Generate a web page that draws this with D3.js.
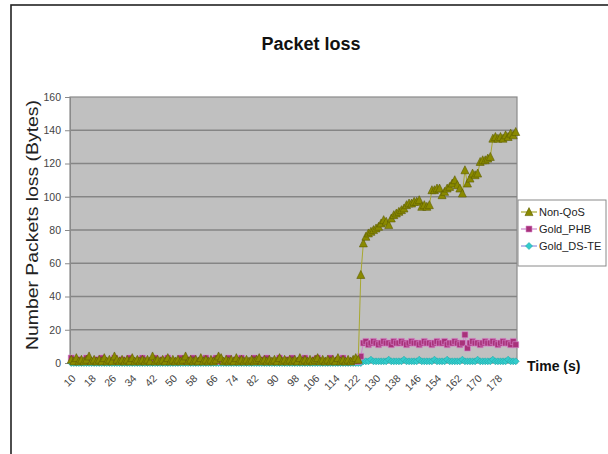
<!DOCTYPE html>
<html><head><meta charset="utf-8">
<script src="https://cdn.jsdelivr.net/npm/d3@7"></script>
<style>body{margin:0;background:#fff}svg{display:block}</style>
</head><body>
<svg id="c" width="608" height="454"></svg>
<script>
// ---- data ----
const times = d3.range(10, 186); // time categories (s), 10..185
const xTickLabels = [10,18,26,34,42,50,58,66,74,82,90,98,106,114,122,130,138,146,154,162,170,178];
const yTicks = [0,20,40,60,80,100,120,140,160];
const seriesNames = ["Non-QoS","Gold_PHB","Gold_DS-TE"];

const nonQoS = [
 2,1,3,1,2,1,2,4,1,2, 1,2,1,3,1,2,1,4,2,1, 2,1,2,1,3,1,2,1,2,1, 2,1,4,1,2,1,2,1,3,1,
 2,1,2,1,2,4,1,2,1,2, 1,3,1,2,1,2,1,2,4,3, 1,2,1,2,1,3,1,2,1,2, 1,2,1,2,3,1,2,1,2,1,
 2,1,3,1,2,1,2,1,2,1, 3,1,2,1,2,1,2,3,1,2, 1,2,1,2,1,3,1,2,1,2, 1,2,3,2,
 53,72,76,78,79,80,81,82,84,86, 85,83,87,89,90,91,92,93,95,96, 96,97,97,98,94,95,94,95,104,104,
 105,105,101,103,105,106,108,110,107,105, 102,116,108,111,114,113,114,121,122,122, 123,124,135,136,135,136,135,137,136,138,
 137,139
];
const goldPHB = [
 3,1,1,2,1,1,3,1,1,1, 2,1,3,1,1,1,1,3,1,1, 2,1,1,3,1,1,1,2,3,1, 1,1,1,3,1,1,2,1,3,1,
 1,1,1,3,1,1,1,2,3,1, 1,1,1,3,1,1,2,3,1,1, 1,1,3,1,1,2,1,3,1,1, 1,1,3,1,1,1,2,3,1,1,
 1,1,3,1,1,2,1,3,1,1, 1,1,3,1,1,1,2,3,1,1, 1,1,3,1,1,2,1,3,1,1, 1,1,2,1,
 4,12,13,11,12,13,12,11,12,13, 12,12,11,13,12,12,13,12,11,12, 13,12,12,11,12,13,12,12,11,12,
 13,12,12,13,11,12,12,13,12,11, 12,17,9,12,13,12,12,11,12,13, 12,12,13,12,11,12,13,12,12,11,
 13,11
];
const goldDSTE = [
 0,0,0,0,0,0,0,0,0,0, 0,0,0,0,0,0,0,0,0,0, 0,0,0,0,0,0,0,0,0,0, 0,0,0,0,0,0,0,0,0,0,
 0,0,0,0,0,0,0,0,0,0, 0,0,0,0,0,0,0,0,0,0, 0,0,0,0,0,0,0,0,0,0, 0,0,0,0,0,0,0,0,0,0,
 0,0,0,0,0,0,0,0,0,0, 0,0,0,0,0,0,0,0,0,0, 0,0,0,0,0,0,0,0,0,0, 0,0,0,0,
 0,1,1,1,2,1,1,1,1,1, 1,2,1,1,1,1,1,2,1,1, 1,1,1,2,1,1,1,1,1,2, 1,1,1,1,2,1,1,1,1,1,
 2,1,1,1,1,1,2,1,1,1, 1,1,2,1,1,1,1,1,2,1, 1,1,1,1,2,1,1,1,1,1,
 2,1
];

// ---- layout ----
const svg = d3.select("#c");
const P = {l:70, r:517, t:97, b:363};
const FONT = "Liberation Sans, Arial, sans-serif";

// outer frame (top + left visible)
svg.append("rect").attr("x",11).attr("y",5).attr("width",700).attr("height",600)
  .attr("fill","#fff").attr("stroke","#222").attr("stroke-width",1.6);

const x = d3.scaleBand().domain(times).range([P.l, P.r]).padding(0);
const y = d3.scaleLinear().domain([0,160]).range([P.b, P.t]);
const cx = t => x(t) + x.bandwidth()/2;

// plot area
svg.append("rect").attr("x",P.l).attr("y",P.t).attr("width",P.r-P.l).attr("height",P.b-P.t)
  .attr("fill","#c0c0c0").attr("stroke","#8a8a8a").attr("stroke-width",1.2);

// gridlines
svg.append("g").selectAll("line").data(yTicks.filter(d=>d>0 && d<160)).join("line")
  .attr("x1",P.l).attr("x2",P.r).attr("y1",d=>y(d)).attr("y2",d=>y(d))
  .attr("stroke","#858585").attr("stroke-width",1.3);

// y axis
const yAxis = d3.axisLeft(y).tickValues(yTicks).tickSize(5).tickPadding(4);
const gy = svg.append("g").attr("transform",`translate(${P.l},0)`).call(yAxis);
gy.select(".domain").attr("stroke","#8a8a8a");
gy.selectAll(".tick line").attr("stroke","#8a8a8a");
gy.selectAll(".tick text").attr("font-family",FONT)
  .attr("font-size",10.5).attr("fill","#444");

// x axis labels
const xAxis = d3.axisBottom(x).tickValues(xTickLabels).tickSize(0).tickPadding(0);
const gx = svg.append("g").attr("transform",`translate(0,${P.b})`).call(xAxis);
gx.select(".domain").remove();
gx.selectAll(".tick text").attr("font-family",FONT)
  .attr("font-size",10.5).attr("fill","#444")
  .attr("text-anchor","end").attr("dy",null).attr("y",0)
  .attr("transform","translate(5,16) rotate(-45)");

// titles
svg.append("text").attr("x",311).attr("y",50).attr("text-anchor","middle")
  .attr("font-family",FONT).attr("font-weight","bold")
  .attr("font-size",18).attr("fill","#111").text("Packet loss");
svg.append("text").attr("transform","translate(38,225) rotate(-90)").attr("text-anchor","middle")
  .attr("font-family",FONT).attr("font-size",17)
  .attr("textLength",250).attr("lengthAdjust","spacingAndGlyphs")
  .attr("fill","#222").text("Number Packets loss (Bytes)");
svg.append("text").attr("x",527).attr("y",371)
  .attr("font-family",FONT).attr("font-weight","bold")
  .attr("font-size",14).attr("fill","#111").text("Time (s)");

// marker shapes
const tri = (px,py,s=8) => `M${px},${py-s*0.55}L${px+s/2},${py+s*0.45}L${px-s/2},${py+s*0.45}Z`;
const sq = (px,py,s=6) => `M${px-s/2},${py-s/2}h${s}v${s}h${-s}Z`;
const dia = (px,py,s=7) => `M${px},${py-s/2}L${px+s/2},${py}L${px},${py+s/2}L${px-s/2},${py}Z`;

const series = [
  {name:seriesNames[2], vals:goldDSTE, line:"#8f8fe0", fill:"#33cccc", stroke:"#20a8a8", shape:dia},
  {name:seriesNames[1], vals:goldPHB, line:"#cc88cc", fill:"#a8327a", stroke:"#d88ad0", shape:sq},
  {name:seriesNames[0], vals:nonQoS, line:"#a8a830", fill:"#8a8a00", stroke:"#5c5c00", shape:tri}
];
const lineGen = d3.line().x((d,i)=>cx(times[i])).y(d=>y(d));
series.forEach(s=>{
  const g = svg.append("g");
  g.append("path").attr("d",lineGen(s.vals)).attr("fill","none")
    .attr("stroke", s.name==="Gold_DS-TE" ? "#33cccc" : s.line).attr("stroke-width",1);
  g.selectAll("path.m").data(s.vals).join("path").attr("class","m")
    .attr("d",(d,i)=>s.shape(cx(times[i]), y(d)))
    .attr("fill",s.fill).attr("stroke",s.stroke).attr("stroke-width",0.6);
});

// legend
const L = {x:518, y:200, w:88, h:66};
svg.append("rect").attr("x",L.x).attr("y",L.y).attr("width",L.w).attr("height",L.h)
  .attr("fill","#fff").attr("stroke","#8a8a8a").attr("stroke-width",1);
const legendOrder = [series[2],series[1],series[0]];
const lg = svg.append("g").selectAll("g").data(legendOrder).join("g")
  .attr("transform",(d,i)=>`translate(${L.x},${L.y+12+i*17})`);
lg.append("line").attr("x1",3).attr("x2",19).attr("y1",0).attr("y2",0)
  .attr("stroke",d=>d.line).attr("stroke-width",1.2);
lg.append("path").attr("d",d=>d.shape(11,0)).attr("fill",d=>d.fill).attr("stroke",d=>d.stroke).attr("stroke-width",0.6);
lg.append("text").attr("x",21).attr("y",4).attr("font-family",FONT)
  .attr("font-size",11).attr("fill","#222").text(d=>d.name);
</script>
</body></html>
